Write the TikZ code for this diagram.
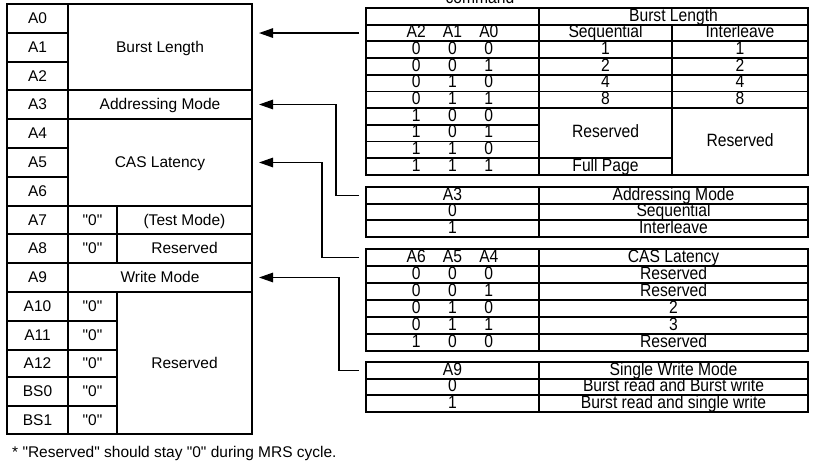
\documentclass[tikz,border=0pt]{standalone}
\usepackage{fontspec}
\setmainfont{Liberation Sans}[Ligatures=TeXOff]
\usepackage{graphicx}
\usetikzlibrary{arrows.meta}
\newcommand{\cellbox}[7][]{\node[#1, minimum width={(#5)-(#3)}, minimum height={(#6)-(#4)}] (#2) at ({((#3)+(#5))/2},{((#4)+(#6))/2}) {#7};}
\newcommand{\rt}[1]{\scalebox{1.01}[1.15]{#1}}
\newcommand{\bitz}[3]{\rt{\makebox[36pt]{#1}\makebox[36pt]{#2}\makebox[36pt]{#3}}}
\begin{document}
\begin{tikzpicture}[x=1pt,y=-1pt, font=\fontsize{15.5}{18}\selectfont,
 lc/.style={draw, line width=1.3pt, inner sep=0pt, outer sep=0pt, text height=10.8pt, text depth=0pt},
 rc/.style={draw, line width=1.8pt, inner sep=0pt, outer sep=0pt, text height=11.5pt, text depth=2pt},
 arr/.style={line width=1.3pt, -{Triangle[length=14pt,width=9.5pt]}}]
\useasboundingbox (0,0) rectangle (831,470);
\clip (0,0) rectangle (831,470);
\fill[white] (0,0) rectangle (831,470);

% ---------- left register table ----------
\cellbox[lc]{LBL}{68}{4}{252}{90}{Burst Length}
\cellbox[lc]{LA0}{7}{4}{68}{33}{A0}
\cellbox[lc]{LA1}{7}{33}{68}{62}{A1}
\cellbox[lc]{LA2}{7}{62}{68}{90}{A2}
\cellbox[lc]{LA3}{7}{90}{68}{119}{A3}
\cellbox[lc]{LAM}{68}{90}{252}{119}{Addressing Mode}
\cellbox[lc]{LCL}{68}{119}{252}{206}{CAS Latency}
\cellbox[lc]{LA4}{7}{119}{68}{148}{A4}
\cellbox[lc]{LA5}{7}{148}{68}{177}{A5}
\cellbox[lc]{LA6}{7}{177}{68}{206}{A6}
\cellbox[lc]{LA7}{7}{206}{68}{234}{A7}
\cellbox[lc]{LZ7}{68}{206}{117}{234}{"0"}
\cellbox[lc]{LTM}{117}{206}{252}{234}{(Test Mode)}
\cellbox[lc]{LA8}{7}{234}{68}{263}{A8}
\cellbox[lc]{LZ8}{68}{234}{117}{263}{"0"}
\cellbox[lc]{LR8}{117}{234}{252}{263}{Reserved}
\cellbox[lc]{LA9}{7}{263}{68}{292}{A9}
\cellbox[lc]{LWM}{68}{263}{252}{292}{Write Mode}
\cellbox[lc]{LRS}{117}{292}{252}{434}{Reserved}
\cellbox[lc]{LA10}{7}{292}{68}{321}{A10}
\cellbox[lc]{LZ10}{68}{292}{117}{321}{"0"}
\cellbox[lc]{LA11}{7}{321}{68}{350}{A11}
\cellbox[lc]{LZ11}{68}{321}{117}{350}{"0"}
\cellbox[lc]{LA12}{7}{350}{68}{377}{A12}
\cellbox[lc]{LZ12}{68}{350}{117}{377}{"0"}
\cellbox[lc]{LBS0}{7}{377}{68}{406}{BS0}
\cellbox[lc]{LZ13}{68}{377}{117}{406}{"0"}
\cellbox[lc]{LBS1}{7}{406}{68}{434}{BS1}
\cellbox[lc]{LZ14}{68}{406}{117}{434}{"0"}

\node[anchor=base west, inner sep=0pt] (note) at (12,458) {* "Reserved" should stay "0" during MRS cycle.};

% ---------- burst length table ----------
\node[anchor=base, inner sep=0pt] (cmd) at (480,3.3) {\rt{command}};
\cellbox[rc]{b1L}{366}{8}{539}{24.7}{}
\cellbox[rc]{b1R}{539}{8}{808}{24.7}{\rt{Burst Length}}
\cellbox[rc]{b2L}{366}{24.7}{539}{41.4}{\bitz{A2}{A1}{A0}}
\cellbox[rc]{b2S}{539}{24.7}{672}{41.4}{\rt{Sequential}}
\cellbox[rc]{b2I}{672}{24.7}{808}{41.4}{\rt{Interleave}}
\cellbox[rc]{b3L}{366}{41.4}{539}{58.1}{\bitz{0}{0}{0}}
\cellbox[rc]{b3S}{539}{41.4}{672}{58.1}{\rt{1}}
\cellbox[rc]{b3I}{672}{41.4}{808}{58.1}{\rt{1}}
\cellbox[rc]{b4L}{366}{58.1}{539}{74.8}{\bitz{0}{0}{1}}
\cellbox[rc]{b4S}{539}{58.1}{672}{74.8}{\rt{2}}
\cellbox[rc]{b4I}{672}{58.1}{808}{74.8}{\rt{2}}
\cellbox[rc]{b5L}{366}{74.8}{539}{91.5}{\bitz{0}{1}{0}}
\cellbox[rc]{b5S}{539}{74.8}{672}{91.5}{\rt{4}}
\cellbox[rc]{b5I}{672}{74.8}{808}{91.5}{\rt{4}}
\cellbox[rc]{b6L}{366}{91.5}{539}{108.2}{\bitz{0}{1}{1}}
\cellbox[rc]{b6S}{539}{91.5}{672}{108.2}{\rt{8}}
\cellbox[rc]{b6I}{672}{91.5}{808}{108.2}{\rt{8}}
\cellbox[rc]{b7L}{366}{108.2}{539}{124.9}{\bitz{1}{0}{0}}
\cellbox[rc]{b8L}{366}{124.9}{539}{141.6}{\bitz{1}{0}{1}}
\cellbox[rc]{b9L}{366}{141.6}{539}{158.3}{\bitz{1}{1}{0}}
\cellbox[rc]{b10L}{366}{158.3}{539}{175}{\bitz{1}{1}{1}}
\cellbox[rc]{bRS}{539}{108.2}{672}{158.3}{\rt{Reserved}}
\cellbox[rc]{bFP}{539}{158.3}{672}{175}{\rt{Full Page}}
\cellbox[rc]{bRI}{672}{108.2}{808}{175}{\rt{Reserved}}

% ---------- addressing mode table ----------
\cellbox[rc]{a1L}{366}{187}{539}{203.7}{\rt{A3}}
\cellbox[rc]{a1R}{539}{187}{808}{203.7}{\rt{Addressing Mode}}
\cellbox[rc]{a2L}{366}{203.7}{539}{220.3}{\rt{0}}
\cellbox[rc]{a2R}{539}{203.7}{808}{220.3}{\rt{Sequential}}
\cellbox[rc]{a3L}{366}{220.3}{539}{237}{\rt{1}}
\cellbox[rc]{a3R}{539}{220.3}{808}{237}{\rt{Interleave}}

% ---------- CAS latency table ----------
\cellbox[rc]{c1L}{366}{249}{539}{266}{\bitz{A6}{A5}{A4}}
\cellbox[rc]{c1R}{539}{249}{808}{266}{\rt{CAS Latency}}
\cellbox[rc]{c2L}{366}{266}{539}{283}{\bitz{0}{0}{0}}
\cellbox[rc]{c2R}{539}{266}{808}{283}{\rt{Reserved}}
\cellbox[rc]{c3L}{366}{283}{539}{300}{\bitz{0}{0}{1}}
\cellbox[rc]{c3R}{539}{283}{808}{300}{\rt{Reserved}}
\cellbox[rc]{c4L}{366}{300}{539}{317}{\bitz{0}{1}{0}}
\cellbox[rc]{c4R}{539}{300}{808}{317}{\rt{2}}
\cellbox[rc]{c5L}{366}{317}{539}{334}{\bitz{0}{1}{1}}
\cellbox[rc]{c5R}{539}{317}{808}{334}{\rt{3}}
\cellbox[rc]{c6L}{366}{334}{539}{351}{\bitz{1}{0}{0}}
\cellbox[rc]{c6R}{539}{334}{808}{351}{\rt{Reserved}}

% ---------- write mode table ----------
\cellbox[rc]{w1L}{366}{362}{539}{378.7}{\rt{A9}}
\cellbox[rc]{w1R}{539}{362}{808}{378.7}{\rt{Single Write Mode}}
\cellbox[rc]{w2L}{366}{378.7}{539}{395.3}{\rt{0}}
\cellbox[rc]{w2R}{539}{378.7}{808}{395.3}{\rt{Burst read and Burst write}}
\cellbox[rc]{w3L}{366}{395.3}{539}{412}{\rt{1}}
\cellbox[rc]{w3R}{539}{395.3}{808}{412}{\rt{Burst read and single write}}

% ---------- connectors ----------
\draw[arr] ([xshift=-7pt]b2L.west) -- ([xshift=7pt]LBL.east |- b2L.west);
\draw[arr] ([xshift=-7pt]a1L.west) -| ([xshift=84pt]LAM.east) -- ([xshift=7pt]LAM.east);
\draw[arr] ([xshift=-7pt]c1L.west) -| ([xshift=70pt]LCL.east) -- ([xshift=7pt]LCL.east);
\draw[arr] ([xshift=-7pt]w1L.west) -| ([xshift=87pt]LWM.east) -- ([xshift=7pt]LWM.east);
\end{tikzpicture}
\end{document}
